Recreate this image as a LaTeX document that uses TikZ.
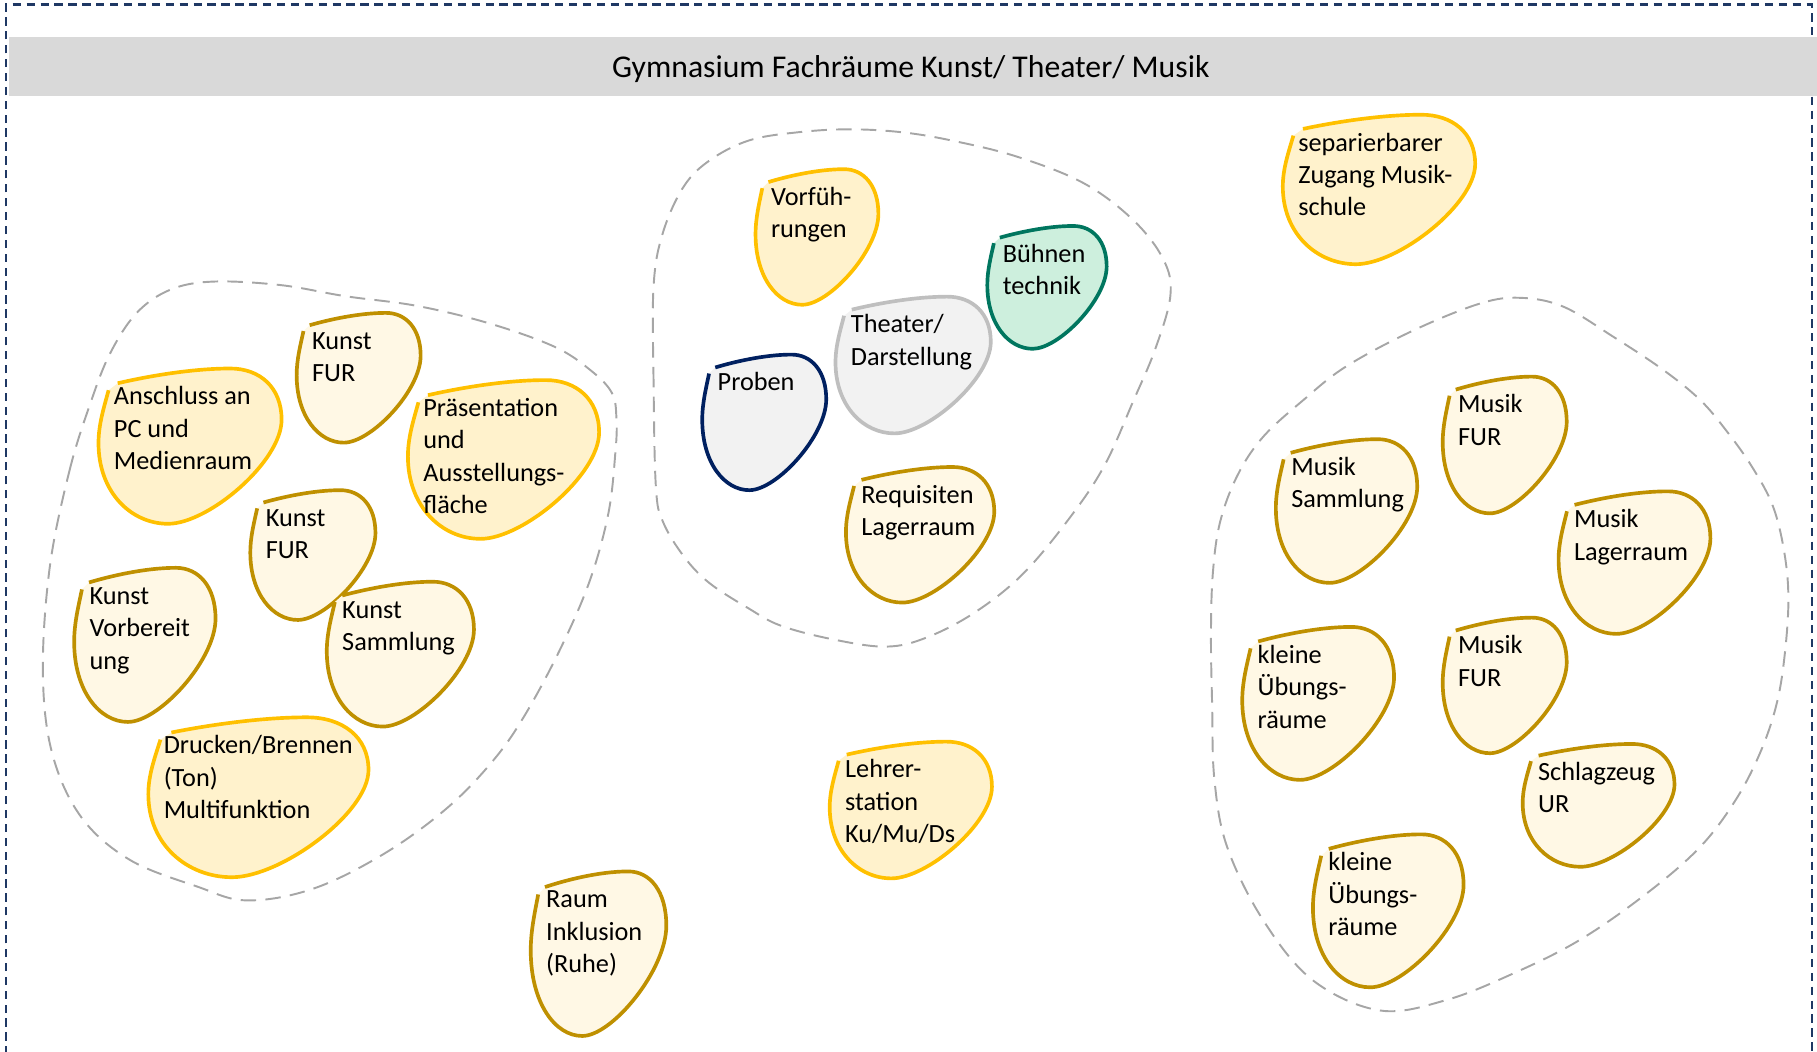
\documentclass[tikz,border=0pt]{standalone}
\usepackage{fontspec}
\setmainfont{Carlito}

\definecolor{goldline}{HTML}{FFC000}
\definecolor{goldfill}{HTML}{FFF2CC}
\definecolor{ochreline}{HTML}{BF9000}
\definecolor{creamfill}{HTML}{FFF8E5}
\definecolor{tealline}{HTML}{00765F}
\definecolor{mintfill}{HTML}{CDEFDD}
\definecolor{greyline}{HTML}{BFBFBF}
\definecolor{greyfill}{HTML}{F2F2F2}
\definecolor{navyline}{HTML}{002060}
\definecolor{zoneline}{HTML}{A6A6A6}
\definecolor{frameline}{HTML}{1F3864}
\definecolor{titlebar}{HTML}{D9D9D9}

\tikzset{
  gold fill/.style={fill=goldfill},   gold line/.style={draw=goldline},
  ochre fill/.style={fill=creamfill}, ochre line/.style={draw=ochreline},
  teal fill/.style={fill=mintfill},   teal line/.style={draw=tealline},
  grey fill/.style={fill=greyfill},   grey line/.style={draw=greyline},
  navy fill/.style={fill=greyfill},   navy line/.style={draw=navyline},
  blobstroke/.style={line width=1.9pt, line cap=butt, line join=round},
  blobtext/.style={anchor=north west, inner sep=0pt, align=left,
    font=\fontsize{13.6}{16.8}\selectfont},
  zone/.style={draw=zoneline, line width=1pt, dash pattern=on 8pt off 4.8pt},
  frame/.style={draw=frameline, line width=1.2pt, dash pattern=on 4.3pt off 2.9pt},
}

% \blob{name}{kind}{left}{top}{width}{height}{text}
% a rounded drop, its outline left open at the top-left corner
\newcommand\blob[7]{%
  \begin{scope}[shift={(#3,#4)}, xscale=#5, yscale=#6]
    \fill[#2 fill] (0.055,0.14) .. controls (0.03,0.25) and (0.0,0.36) .. (0.0,0.48)
      .. controls (0.0,0.8) and (0.18,1.0) .. (0.38,1.0)
      .. controls (0.6,1.0) and (1.0,0.6) .. (1.0,0.33)
      .. controls (1.0,0.12) and (0.88,0.0) .. (0.72,0.0)
      .. controls (0.5,0.0) and (0.25,0.055) .. (0.105,0.095) -- cycle;
    \draw[blobstroke, #2 line] (0.055,0.14) .. controls (0.03,0.25) and (0.0,0.36) .. (0.0,0.48)
      .. controls (0.0,0.8) and (0.18,1.0) .. (0.38,1.0)
      .. controls (0.6,1.0) and (1.0,0.6) .. (1.0,0.33)
      .. controls (1.0,0.12) and (0.88,0.0) .. (0.72,0.0)
      .. controls (0.5,0.0) and (0.25,0.055) .. (0.105,0.095);
  \end{scope}
  \node[blobtext] (#1) at ({#3+13},{#4+11}) {\rule{0pt}{12pt}#7};
}

\begin{document}
\begin{tikzpicture}[x=0.6pt, y=-0.6pt]
  \useasboundingbox (0,0) rectangle (1568,907);

  % page frame (open towards the bottom)
  \draw[frame] (5,910) -- (5,4) -- (1563.5,4) -- (1563.5,910);

  % title bar
  \fill[titlebar] (7.5,32) rectangle (1568,82.5);
  \node[font=\fontsize{16.4}{20}\selectfont, inner sep=0pt] (title) at (786,59.5)
    {Gymnasium Fachräume Kunst/ Theater/ Musik};

  % zone: art
  \draw[zone] plot[smooth cycle, tension=0.6] coordinates {
    (43,489) (60,406) (78,348) (95,305) (118,270) (147,250) (184,243)
    (242,246) (298,255.6) (360,264) (422,279) (478,299) (509,319) (528,339)
    (532,362) (531,391) (525,443) (509,501) (484,559) (453,617) (425,657)
    (385,698) (331,737) (270,767) (213,777) (170,765) (112,742)
    (70,705) (45,650) (37,580)};

  % zone: theatre
  \draw[zone] plot[smooth cycle, tension=0.6] coordinates {
    (566,420) (564,330) (564,247) (572,201) (590,161) (613,138) (647,121)
    (690,114) (733,111.6) (777,114) (820,121) (877,135) (935,158) (978,190)
    (1004,224) (1010,255) (997,301) (978,346) (954,400) (926,443) (884,494)
    (842,528) (800,550) (765,558) (720,552) (674,540) (646,525) (612,503)
    (590,480) (572,450)};

  % zone: music
  \draw[zone] plot[smooth cycle, tension=0.6] coordinates {
    (1312,257) (1277,262) (1220,285) (1162,316) (1125,345) (1090,377)
    (1068,410) (1053,450) (1046.7,493.7) (1045,546.6) (1046,607.6) (1048,673)
    (1059,731) (1090,794) (1133,846) (1191,872) (1248,863) (1306,840)
    (1363.5,811) (1421,771) (1467,731) (1498,690) (1519.5,648.2) (1533.1,607.6)
    (1539.9,566.9) (1543.3,518.1) (1539.9,477.5) (1530,437) (1512,403)
    (1490,372) (1467,345) (1435,319) (1392,290.5) (1349,264.6)};

  % art rooms
  \blob{anschluss}{gold}{85}{318}{158}{134}{Anschluss an\\PC und\\Medienraum}
  \blob{kunstfurA}{ochre}{256}{270}{107}{112}{Kunst\\FUR}
  \blob{praesentation}{gold}{352}{328}{165}{137}{Präsentation\\und\\Ausstellungs-\\fläche}
  \blob{kunstfurB}{ochre}{216}{423}{108}{112}{Kunst\\FUR}
  \blob{vorbereitung}{ochre}{64}{490}{122}{133}{Kunst\\Vorbereit\\ung}
  \blob{kunstsammlung}{ochre}{282}{502}{127}{125}{Kunst\\Sammlung}
  \blob{drucken}{gold}{128}{619}{190}{138}{Drucken/Brennen\\(Ton)\\Multifunktion}

  % shared rooms
  \blob{raum}{ochre}{458}{752}{117}{142}{Raum\\Inklusion\\(Ruhe)}
  \blob{lehrer}{gold}{716}{640}{140}{118}{Lehrer-\\station\\Ku/Mu/Ds}

  % theatre rooms
  \blob{vorfuehrungen}{gold}{652}{146}{106}{117}{Vorfüh-\\rungen}
  \blob{buehne}{teal}{852}{195}{103}{106}{Bühnen\\technik}
  \blob{theater}{grey}{721}{256}{134}{118}{Theater/\\Darstellung}
  \blob{proben}{navy}{606}{306}{107}{117}{Proben}
  \blob{requisiten}{ochre}{730}{403}{128}{117}{Requisiten\\Lagerraum}

  % music rooms
  \blob{zugang}{gold}{1107}{99}{166}{129}{separierbarer\\Zugang Musik-\\schule}
  \blob{musikfurA}{ochre}{1245}{325}{107}{118}{Musik\\FUR}
  \blob{musiksammlung}{ochre}{1101}{379}{122}{124}{Musik\\Sammlung}
  \blob{musiklager}{ochre}{1345}{424}{131}{123}{Musik\\Lagerraum}
  \blob{uebenA}{ochre}{1072}{541}{131}{132}{kleine\\Übungs-\\räume}
  \blob{musikfurB}{ochre}{1245}{533}{107}{117}{Musik\\FUR}
  \blob{schlagzeug}{ochre}{1314}{642}{131}{106}{Schlagzeug\\UR}
  \blob{uebenB}{ochre}{1133}{720}{130}{132}{kleine\\Übungs-\\räume}
\end{tikzpicture}
\end{document}
